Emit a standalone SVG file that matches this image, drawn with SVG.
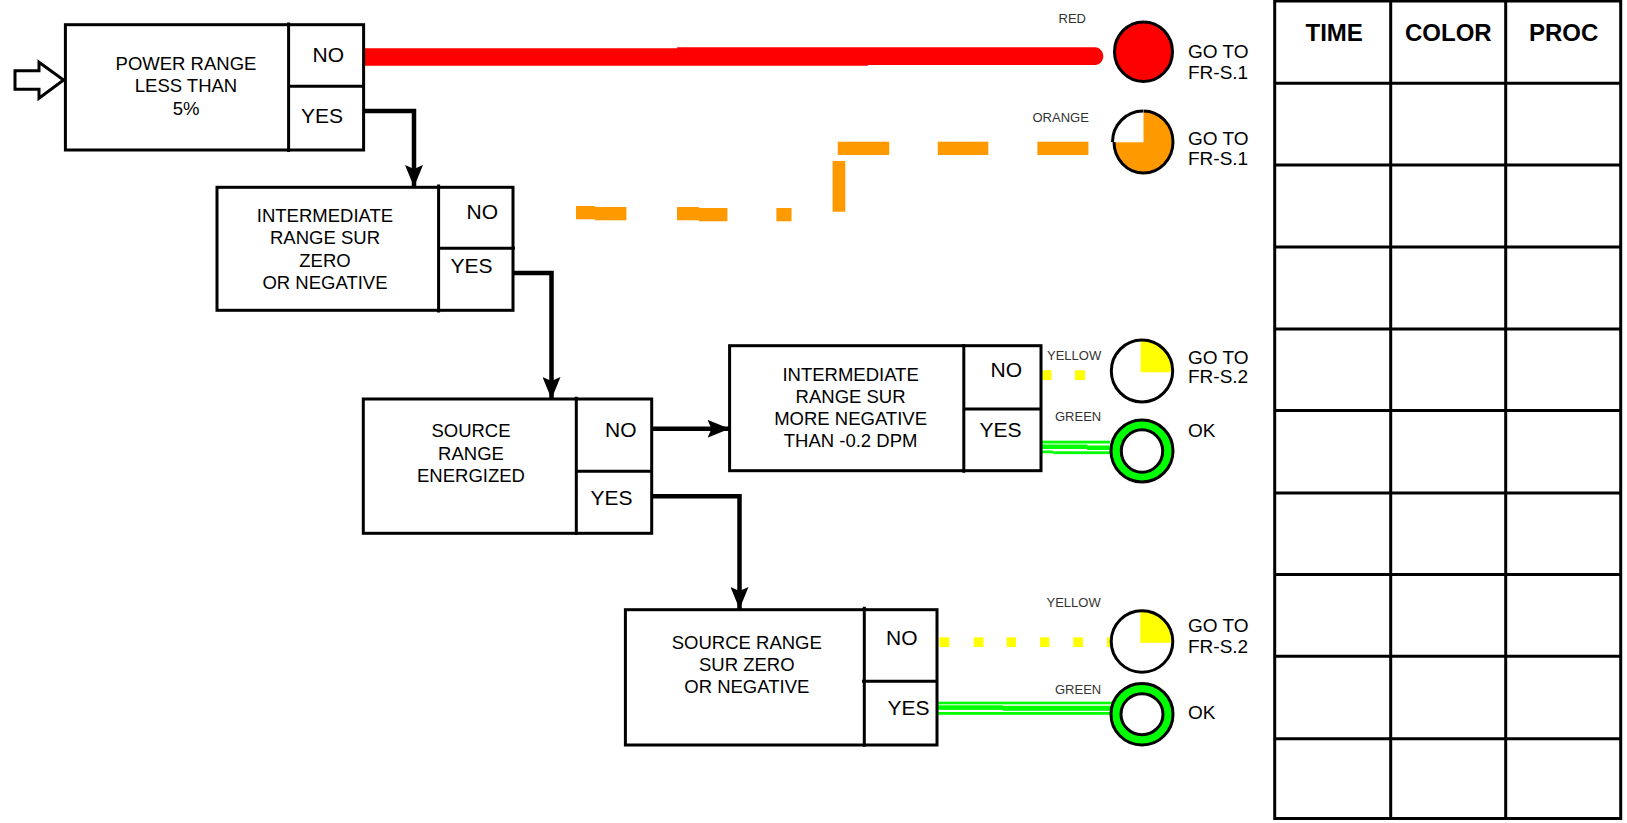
<svg xmlns="http://www.w3.org/2000/svg" width="1627" height="823" viewBox="0 0 1627 823">
<defs>
<marker id="ah" markerUnits="userSpaceOnUse" markerWidth="24" markerHeight="18" refX="22" refY="9" orient="auto"><path d="M0 0L22 9L0 18L4 9Z" fill="#000"/></marker>
</defs>
<style>
text{font-family:"Liberation Sans",Arial,sans-serif;fill:#000}
.t{font-size:18.5px;text-anchor:middle}
.a{font-size:21px}
.s{font-size:13px;fill:#333}
.g{font-size:19px}
.h{font-size:24px;font-weight:bold}
.b{fill:#fff;stroke:#000;stroke-width:3}
.d{fill:none;stroke:#000;stroke-width:3}
.c{fill:none;stroke:#000;stroke-width:4.5;stroke-linejoin:miter}
.o{fill:#ff9900}
.y{fill:#ffff00}
.gl{fill:#00ff00}
.e{stroke:#000;stroke-width:3}
</style>
<rect width="1627" height="823" fill="#fff"/>

<g id="connectors">
<path d="M15 70.7H39V62.3L63.6 80L39 98.3V89.3H15Z" fill="#fff" stroke="#000" stroke-width="3"/>
<path d="M363 48.3H677V47.3H1096A9 9 0 0 1 1096 65H868V65.7H363Z" fill="#ff0000"/>
<path class="c" d="M363 111H414V187" marker-end="url(#ah)"/>
<path class="c" d="M513 273H551.5V399" marker-end="url(#ah)"/>
<path class="c" d="M651 428.8H729.5" marker-end="url(#ah)"/>
<path class="c" d="M651 496.3H739.5V609" marker-end="url(#ah)"/>
<g class="o">
<rect x="576" y="206" width="19" height="13.3"/><rect x="595" y="207" width="31.4" height="13.3"/>
<rect x="677" y="207" width="22" height="13.3"/><rect x="699" y="208" width="28.4" height="13.3"/>
<rect x="776.4" y="208" width="15.1" height="13.3"/>
<rect x="832.6" y="161" width="12.7" height="50.7"/>
<rect x="837.8" y="141.7" width="51.4" height="13.3"/>
<rect x="937.8" y="141.7" width="50.5" height="13.3"/>
<rect x="1037.4" y="141.7" width="51" height="13.3"/>
</g>
<g class="y">
<rect x="1042" y="370.3" width="9.5" height="9.7"/><rect x="1075" y="370.3" width="10" height="9.7"/>
<rect x="939.5" y="637.3" width="9.8" height="9.7"/><rect x="973.7" y="637.3" width="9.8" height="9.7"/><rect x="1006.6" y="637.3" width="9.4" height="9.7"/><rect x="1040" y="637.3" width="9.3" height="9.7"/><rect x="1073.3" y="637.3" width="9.7" height="9.7"/><rect x="1107" y="637.3" width="4" height="9.7"/>
</g>
<g class="gl">
<rect x="1041" y="440.7" width="69" height="2.8"/>
<rect x="1041" y="444.5" width="46" height="4.5"/><rect x="1087" y="445.5" width="23" height="4.5"/>
<rect x="1041" y="450.5" width="12" height="2.8"/><rect x="1053" y="451.3" width="57" height="2.8"/>
<rect x="937" y="701.7" width="177" height="2.6"/>
<rect x="937" y="705.3" width="66" height="4.6"/><rect x="1003" y="705.8" width="111" height="5"/>
<rect x="937" y="712" width="177" height="2.8"/>
</g>
</g>

<g id="n-power">
<rect class="b" x="65.4" y="24.7" width="298.2" height="125.3"/>
<path class="d" d="M288.6 22.5V152M288 86.3H365"/>
<text class="t" x="186" y="70">POWER RANGE</text><text class="t" x="186" y="92.2">LESS THAN</text><text class="t" x="186" y="115.2">5%</text>
<text class="a" x="312.5" y="62.3">NO</text><text class="a" x="301" y="122.8">YES</text>
</g>
<g id="n-ir-zero">
<rect class="b" x="217" y="187.3" width="296" height="123"/>
<path class="d" d="M438.6 184.5V312.5M438 248.3H515"/>
<text class="t" x="325" y="221.5">INTERMEDIATE</text><text class="t" x="325" y="244.3">RANGE SUR</text><text class="t" x="325" y="266.5">ZERO</text><text class="t" x="325" y="289.3">OR NEGATIVE</text>
<text class="a" x="466.5" y="219.3">NO</text><text class="a" x="450.5" y="272.8">YES</text>
</g>
<g id="n-sr-energized">
<rect class="b" x="363.3" y="399" width="288.4" height="134.3"/>
<path class="d" d="M576.3 396.7V535M575 471.3H653"/>
<text class="t" x="471" y="437.2">SOURCE</text><text class="t" x="471" y="460">RANGE</text><text class="t" x="471" y="481.7">ENERGIZED</text>
<text class="a" x="605" y="437">NO</text><text class="a" x="590.5" y="505">YES</text>
</g>
<g id="n-ir-neg">
<rect class="b" x="729.6" y="345.7" width="311.4" height="125"/>
<path class="d" d="M963.8 344V472.7M963 409H1042"/>
<text class="t" x="850.6" y="380.5">INTERMEDIATE</text><text class="t" x="850.6" y="403.3">RANGE SUR</text><text class="t" x="850.6" y="424.8">MORE NEGATIVE</text><text class="t" x="850.6" y="446.7">THAN -0.2 DPM</text>
<text class="a" x="990.5" y="377.3">NO</text><text class="a" x="979.5" y="437.3">YES</text>
</g>
<g id="n-sr-zero">
<rect class="b" x="625.4" y="609.7" width="311.6" height="135.3"/>
<path class="d" d="M864.3 606.7V746.7M862 681.3H938"/>
<text class="t" x="746.8" y="648.5">SOURCE RANGE</text><text class="t" x="746.8" y="671">SUR ZERO</text><text class="t" x="746.8" y="693.3">OR NEGATIVE</text>
<text class="a" x="886" y="645">NO</text><text class="a" x="887.5" y="715">YES</text>
</g>

<g id="s-red">
<text class="s" x="1058.5" y="23.3">RED</text>
<ellipse cx="1143.5" cy="51.7" rx="29" ry="29.8" fill="#ff0000" class="e"/>
<text class="g" x="1188" y="58.3">GO TO</text><text class="g" x="1188" y="79">FR-S.1</text>
</g>
<g id="s-orange">
<text class="s" x="1032.5" y="122.3">ORANGE</text>
<ellipse cx="1143.5" cy="142" rx="29.5" ry="31" class="o"/>
<rect x="1110" y="108" width="33.5" height="34.3" fill="#fff"/>
<path d="M1143.5 111A29.5 31 0 1 1 1114 142" fill="none" class="e"/>
<path d="M1143 111A30.5 31 0 0 0 1112.5 142" fill="none" class="e"/>
<text class="g" x="1188" y="145">GO TO</text><text class="g" x="1188" y="165.3">FR-S.1</text>
</g>
<g id="s-yellow-1">
<text class="s" x="1047" y="360">YELLOW</text>
<ellipse cx="1142" cy="371" rx="30.7" ry="31" fill="#fff"/>
<path d="M1140.6 372.3V340A30.7 31 0 0 1 1172.7 372.3Z" class="y"/>
<ellipse cx="1142" cy="371" rx="30.7" ry="31" fill="none" class="e"/>
<text class="g" x="1188" y="364.3">GO TO</text><text class="g" x="1188" y="383.3">FR-S.2</text>
</g>
<g id="s-green-1">
<text class="s" x="1055" y="421.3">GREEN</text>
<ellipse cx="1142" cy="451" rx="26" ry="26" fill="#fff" stroke="#00ff00" stroke-width="10"/>
<ellipse cx="1142" cy="451" rx="31" ry="31" fill="none" class="e"/>
<ellipse cx="1142" cy="451" rx="20.7" ry="21.3" fill="none" class="e"/>
<text class="g" x="1188" y="437.3">OK</text>
</g>
<g id="s-yellow-2">
<text class="s" x="1046.5" y="607.3">YELLOW</text>
<ellipse cx="1142" cy="641.5" rx="30.8" ry="30.8" fill="#fff"/>
<path d="M1140.3 642.7V610.7A30.8 30.8 0 0 1 1172.8 642.7Z" class="y"/>
<ellipse cx="1142" cy="641.5" rx="30.8" ry="30.8" fill="none" class="e"/>
<text class="g" x="1188" y="632">GO TO</text><text class="g" x="1188" y="652.7">FR-S.2</text>
</g>
<g id="s-green-2">
<text class="s" x="1055" y="694.3">GREEN</text>
<ellipse cx="1142" cy="714.2" rx="26" ry="25.7" fill="#fff" stroke="#00ff00" stroke-width="10"/>
<ellipse cx="1142" cy="714.2" rx="31" ry="30.8" fill="none" class="e"/>
<ellipse cx="1142" cy="714.2" rx="21" ry="20.5" fill="none" class="e"/>
<text class="g" x="1188" y="719.3">OK</text>
</g>

<g id="table">
<rect x="1274.7" y="1" width="346" height="817.5" fill="#fff" stroke="#000" stroke-width="3"/>
<path class="d" d="M1390.7 1V818.5M1505.7 1V818.5M1274.7 83.3H1620.7M1274.7 165H1620.7M1274.7 247H1620.7M1274.7 329H1620.7M1274.7 410.5H1620.7M1274.7 493H1620.7M1274.7 574.5H1620.7M1274.7 656.3H1620.7M1274.7 738.7H1620.7"/>
<text class="h" x="1305.5" y="40.7">TIME</text><text class="h" x="1405" y="40.7">COLOR</text><text class="h" x="1529" y="40.7">PROC</text>
</g>
</svg>
